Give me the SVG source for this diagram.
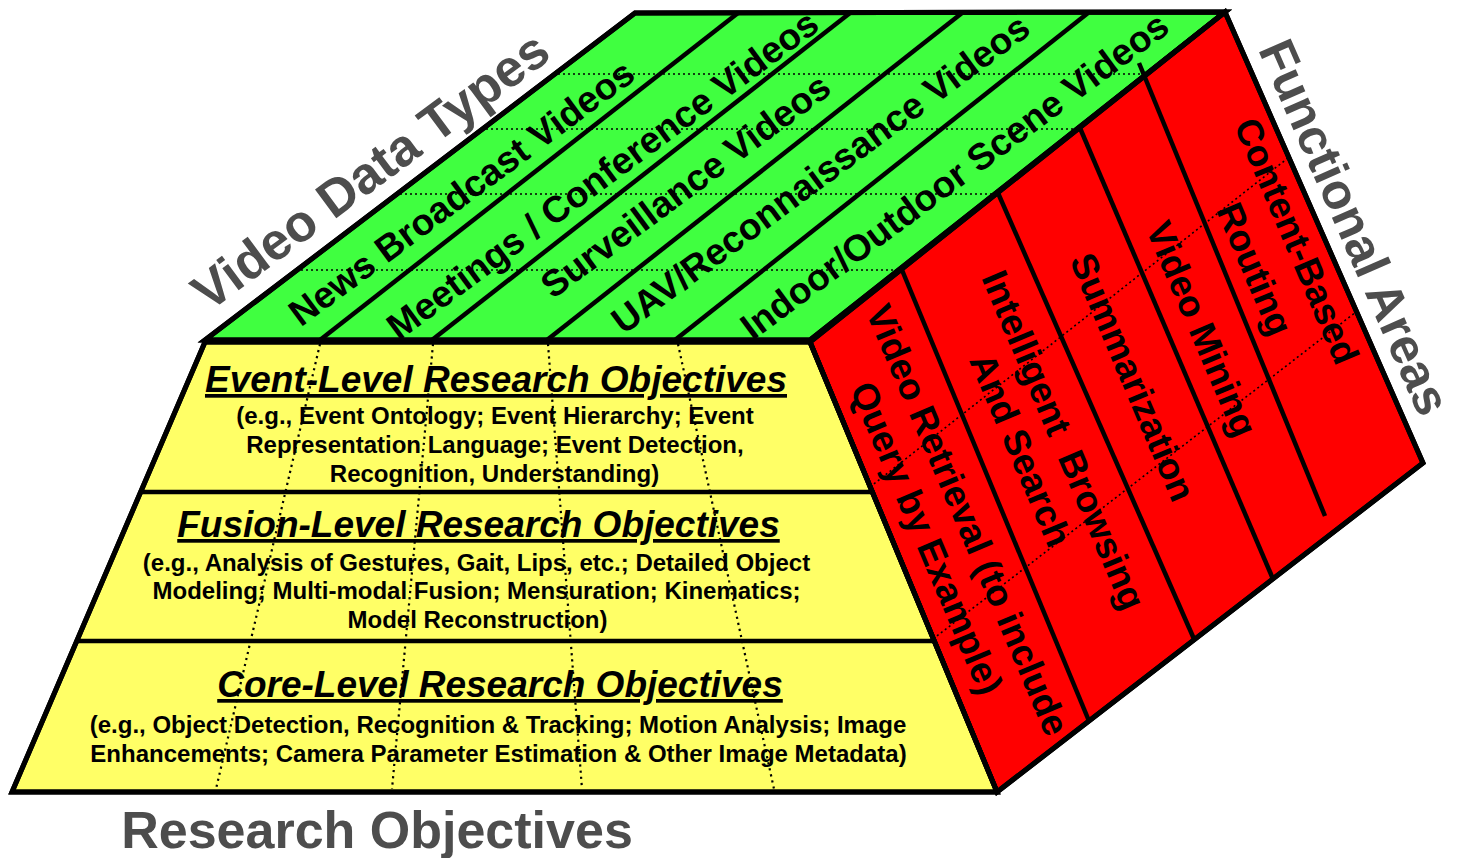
<svg xmlns="http://www.w3.org/2000/svg" width="1463" height="858" viewBox="0 0 1463 858">
<style>
.face{stroke:#000;stroke-width:5;stroke-linejoin:miter}
.div{stroke:#000;stroke-width:4.5;fill:none}
.dotG{stroke:#000;stroke-width:1.6;stroke-dasharray:2 3;fill:none}
.dotY{stroke:#000;stroke-width:2.2;stroke-dasharray:2.2 4;fill:none}
.lbl{font-family:"Liberation Sans",Arial,sans-serif;font-weight:bold;fill:#000;text-anchor:middle}
.big{font-family:"Liberation Sans",Arial,sans-serif;font-weight:bold;fill:#4D4D4D;text-anchor:middle;font-size:52px}
.t37{font-size:37px}
.title{font-size:37px;font-style:italic;text-decoration:underline}
.body{font-size:24px}
</style>
<rect width="1463" height="858" fill="#fff"/>

<g id="top-face">
<polygon class="face" points="205,340 635,13 1225,12 810,340" fill="#40FF40"/>
</g>
<g id="right-face">
<polygon class="face" points="810,342 1225,12 1423,463 997,792" fill="#FF0000"/>
</g>
<g id="front-face">
<polygon class="face" points="205,342 810,342 997,792 12,792" fill="#FFFF66"/>
</g>

<g id="connectors">
<line class="dotG" x1="301" y1="270" x2="899" y2="270"/>
<line class="dotG" x1="400" y1="194" x2="995" y2="194"/>
<line class="dotG" x1="486" y1="129" x2="1078" y2="129"/>
<line class="dotG" x1="558" y1="74" x2="1146" y2="74"/>
<line class="dotY" x1="320" y1="344" x2="216" y2="789"/>
<line class="dotY" x1="433" y1="344" x2="392" y2="789"/>
<line class="dotY" x1="548" y1="344" x2="582" y2="789"/>
<line class="dotY" x1="678" y1="344" x2="774" y2="789"/>
<line class="dotG" x1="870" y1="487" x2="1288" y2="158"/>
<line class="dotG" x1="933" y1="639" x2="1356" y2="312"/>
</g>

<g id="top-dividers">
<line class="div" x1="320" y1="340" x2="738" y2="13"/>
<line class="div" x1="432" y1="340" x2="850" y2="13"/>
<line class="div" x1="547" y1="340" x2="962" y2="13"/>
<line class="div" x1="675" y1="340" x2="1088" y2="13"/>
</g>
<g id="right-dividers">
<line class="div" x1="902" y1="270" x2="1089" y2="721"/>
<line class="div" x1="998" y1="193" x2="1194" y2="639"/>
<line class="div" x1="1080" y1="128" x2="1273" y2="579"/>
<line class="div" x1="1139" y1="63" x2="1325" y2="516"/>
</g>
<g id="front-dividers">
<line class="div" x1="141" y1="492" x2="872" y2="492"/>
<line class="div" x1="77" y1="641" x2="934" y2="641"/>
</g>

<g id="outline">
<polygon class="face" points="205,340 635,13 1225,12 810,340" fill="none"/>
<polygon class="face" points="810,342 1225,12 1423,463 997,792" fill="none"/>
<polygon class="face" points="205,342 810,342 997,792 12,792" fill="none"/>
</g>

<g id="video-types">
<text class="lbl t37" transform="translate(469,203) rotate(-36.5)">News Broadcast Videos</text>
<text class="lbl t37" transform="translate(610,185) rotate(-36.5)">Meetings / Conference Videos</text>
<text class="lbl t37" transform="translate(693,196) rotate(-36.5)">Surveillance Videos</text>
<text class="lbl t37" transform="translate(828,184) rotate(-36.5)">UAV/Reconnaissance Videos</text>
<text class="lbl t37" transform="translate(962,186) rotate(-36.5)">Indoor/Outdoor Scene Videos</text>
</g>

<g id="functional-areas">
<text class="lbl t37" transform="translate(956,525) rotate(67)">Video Retrieval (to include</text>
<text class="lbl t37" transform="translate(915,543) rotate(67)">Query by Example)</text>
<text class="lbl t37" xml:space="preserve" transform="translate(1052,445) rotate(67)">Intelligent  Browsing</text>
<text class="lbl t37" transform="translate(1009,455) rotate(67)">And Search</text>
<text class="lbl t37" transform="translate(1121,382) rotate(67)">Summarization</text>
<text class="lbl t37" transform="translate(1190,334) rotate(67)">Video Mining</text>
<text class="lbl t37" transform="translate(1285,246) rotate(67)">Content-Based</text>
<text class="lbl t37" transform="translate(1243,274) rotate(67)">Routing</text>
</g>

<g id="event-level">
<text class="lbl title" x="496" y="392">Event-Level Research Objectives</text>
<text class="lbl body" x="495" y="424">(e.g., Event Ontology; Event Hierarchy; Event</text>
<text class="lbl body" x="495" y="453">Representation Language; Event Detection,</text>
<text class="lbl body" x="494.5" y="482">Recognition, Understanding)</text>
</g>
<g id="fusion-level">
<text class="lbl title" x="478.5" y="537">Fusion-Level Research Objectives</text>
<text class="lbl body" x="476.5" y="571">(e.g., Analysis of Gestures, Gait, Lips, etc.; Detailed Object</text>
<text class="lbl body" x="476.5" y="599">Modeling; Multi-modal Fusion; Mensuration; Kinematics;</text>
<text class="lbl body" x="477.5" y="628">Model Reconstruction)</text>
</g>
<g id="core-level">
<text class="lbl title" x="500" y="697">Core-Level Research Objectives</text>
<text class="lbl body" x="498" y="733">(e.g., Object Detection, Recognition &amp; Tracking; Motion Analysis; Image</text>
<text class="lbl body" x="498.5" y="762">Enhancements; Camera Parameter Estimation &amp; Other Image Metadata)</text>
</g>

<g id="axis-labels">
<text class="big" transform="translate(381,185) rotate(-36.5)">Video Data Types</text>
<text class="big" style="font-size:50px" transform="translate(1339,234) rotate(66.3)">Functional Areas</text>
<text class="big" x="377" y="848">Research Objectives</text>
</g>
</svg>
